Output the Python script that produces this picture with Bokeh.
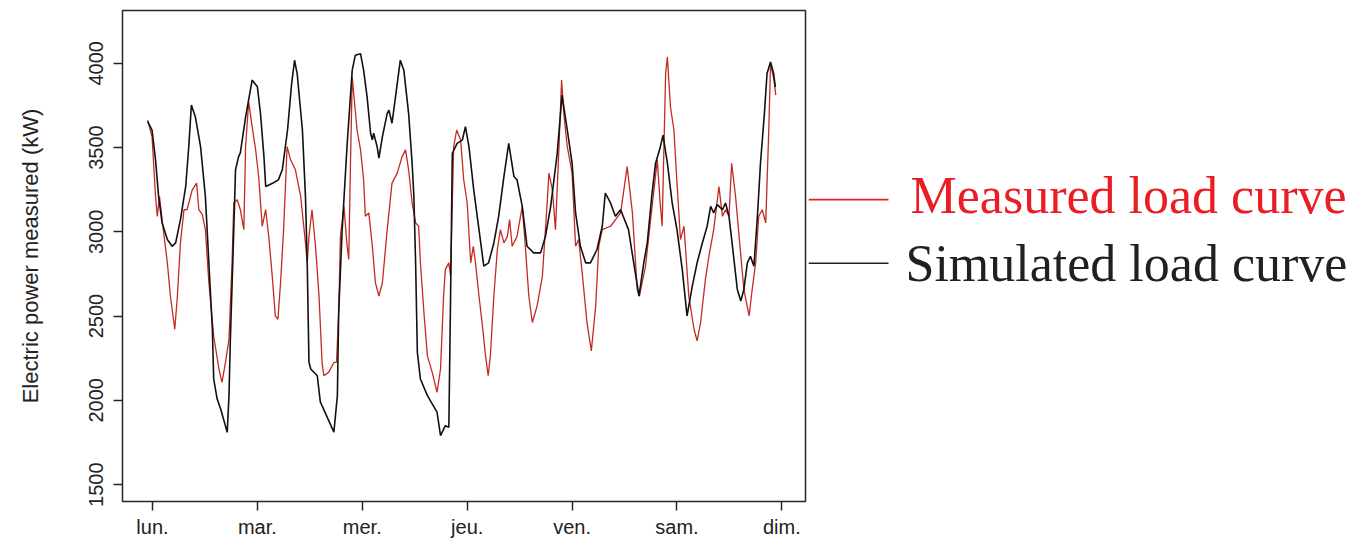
from bokeh.plotting import figure
from bokeh.models import Range1d, FixedTicker
from bokeh.layouts import row
from bokeh.embed import file_html
from bokeh.resources import INLINE
from bokeh.core.properties import value

# ---------------- data ----------------
day_labels = ["lun.", "mar.", "mer.", "jeu.", "ven.", "sam.", "dim."]
y_ticks = [1500, 2000, 2500, 3000, 3500, 4000]
series_names = ["Measured load curve", "Simulated load curve"]

# hours since Monday 00:00, measured load (kW)
measured_h = [-1.1, -0.1, 0.7, 1.1, 1.6, 2.2, 3.4, 4.1, 5.1, 5.7,
              6.4, 7.2, 7.9, 9.1, 10.1, 10.6, 11.4, 12.1, 12.9, 14.0,
              15.2, 15.9, 16.7, 17.5, 18.2, 18.6, 19.4, 20.1, 20.9, 21.3,
              22.0, 22.8, 23.6, 24.3, 25.1, 25.9, 26.6, 27.4, 28.1, 28.7,
              29.3, 30.0, 30.8, 31.6, 32.7, 33.9, 35.0, 35.4, 35.8, 36.5,
              37.3, 38.1, 38.8, 39.2, 40.3, 41.5, 42.1, 42.6, 43.0, 43.8,
              44.5, 44.9, 45.3, 45.7, 46.1, 46.8, 47.6, 48.3, 48.7, 49.5,
              50.3, 51.0, 51.8, 52.6, 53.7, 54.8, 56.0, 57.1, 57.9, 58.6,
              59.4, 60.2, 60.9, 61.3, 62.1, 62.9, 64.0, 65.1, 65.9, 66.6,
              67.0, 67.8, 68.2, 68.9, 69.6, 70.5, 71.2, 72.0, 72.8, 73.4,
              73.9, 74.7, 75.4, 76.2, 76.8, 77.3, 78.1, 78.9, 79.6, 80.4,
              81.2, 81.7, 82.3, 83.4, 84.6, 85.3, 86.1, 86.9, 88.0, 89.2,
              90.3, 90.7, 91.5, 92.2, 93.0, 93.6, 94.1, 94.9, 96.0, 96.8,
              97.5, 98.3, 99.4, 100.4, 101.4, 102.1, 102.9, 104.8, 107.1, 108.6,
              109.8, 110.9, 111.4, 112.8, 114.3, 115.5, 116.1, 116.6, 117.4, 117.8,
              118.5, 119.3, 120.0, 120.8, 121.6, 122.7, 123.9, 124.6, 125.4, 126.5,
              127.3, 128.4, 129.6, 130.4, 131.1, 131.9, 132.5, 133.4, 134.2, 135.3,
              136.5, 137.2, 138.0, 138.7, 139.5, 140.3, 141.0, 141.4, 142.2, 142.6]
measured_kw = [3663, 3564, 3210, 3092, 3210, 3072, 2816, 2619, 2422, 2619,
               2934, 3131, 3131, 3249, 3289, 3131, 3102, 3013, 2698, 2382,
               2186, 2107, 2225, 2363, 2816, 3171, 3190, 3131, 3013, 3505,
               3771, 3624, 3486, 3328, 3033, 3131, 2973, 2737, 2501, 2481,
               2698, 3013, 3505, 3427, 3368, 3210, 2934, 2816, 2973, 3131,
               2914, 2619, 2225, 2146, 2166, 2225, 2225, 2521, 2973, 3151,
               2924, 2836, 3407, 3919, 3801, 3604, 3486, 3309, 3092, 3112,
               2914, 2698, 2619, 2698, 3013, 3289, 3348, 3446, 3486, 3368,
               3171, 3053, 3033, 2816, 2521, 2264, 2166, 2048, 2186, 2619,
               2777, 2816, 2737, 3505, 3604, 3545, 3309, 3171, 2816, 2914,
               2816, 2619, 2462, 2264, 2146, 2264, 2619, 2895, 3013, 2934,
               2973, 3072, 2914, 2973, 3151, 2914, 2619, 2462, 2560, 2737,
               3171, 3348, 3249, 3013, 3505, 3900, 3703, 3505, 3348, 2914,
               2954, 2759, 2463, 2294, 2560, 2914, 3013, 3033, 3112, 3387,
               3112, 2658, 2619, 2796, 3151, 3427, 3190, 3033, 3939, 4037,
               3742, 3604, 3289, 2954, 3033, 2619, 2422, 2353, 2462, 2718,
               2855, 3013, 3269, 3092, 3131, 3092, 3407, 3210, 2973, 2658,
               2501, 2658, 2816, 3092, 3131, 3053, 3604, 3998, 3900, 3811]

simulated_h = [-1.1, -0.1, 0.7, 1.4, 2.2, 3.4, 4.5, 5.3, 6.4, 7.6,
               8.3, 8.9, 9.8, 11.0, 12.1, 12.9, 13.7, 14.0, 14.8, 15.6,
               17.1, 17.5, 17.8, 18.6, 19.0, 19.7, 20.1, 21.3, 22.8, 24.0,
               24.7, 25.5, 25.9, 27.7, 28.8, 29.7, 30.9, 31.8, 32.5, 33.1,
               34.3, 35.0, 35.4, 35.8, 36.2, 37.7, 38.4, 41.5, 42.3, 42.6,
               43.4, 44.5, 45.7, 46.4, 47.6, 48.3, 49.1, 49.9, 50.3, 50.6,
               51.4, 51.8, 52.6, 53.7, 54.1, 54.8, 55.6, 56.7, 57.5, 58.6,
               59.4, 59.8, 60.2, 60.6, 61.3, 62.9, 65.1, 65.9, 67.0, 67.8,
               68.2, 68.6, 69.7, 70.9, 71.6, 72.4, 73.5, 74.7, 75.8, 76.9,
               78.1, 79.2, 80.4, 81.5, 82.7, 83.4, 84.6, 85.7, 87.2, 88.8,
               89.9, 91.1, 92.6, 93.7, 94.9, 96.0, 96.8, 97.9, 99.1, 100.2,
               101.7, 102.9, 103.6, 104.8, 105.9, 107.1, 108.9, 111.3, 112.4, 113.2,
               114.3, 115.1, 116.2, 116.8, 117.8, 118.9, 120.0, 121.2, 122.3, 123.5,
               124.6, 125.8, 126.9, 127.7, 128.4, 129.2, 130.4, 131.1, 131.9, 132.6,
               133.8, 134.6, 135.3, 136.1, 136.8, 137.6, 138.4, 139.1, 140.0, 140.6,
               141.4, 142.1, 142.5]
simulated_kw = [3653, 3604, 3427, 3210, 3053, 2954, 2914, 2934, 3072, 3269,
                3505, 3752, 3683, 3505, 3210, 2816, 2422, 2127, 2008, 1949,
                1810, 2028, 2345, 3013, 3368, 3446, 3468, 3681, 3900, 3860,
                3705, 3446, 3269, 3291, 3308, 3368, 3604, 3870, 4018, 3939,
                3604, 3210, 2816, 2227, 2186, 2146, 1991, 1812, 2028, 2523,
                3013, 3505, 3959, 4047, 4057, 3959, 3801, 3585, 3545, 3585,
                3505, 3437, 3564, 3703, 3722, 3644, 3801, 4018, 3959, 3703,
                3407, 3210, 2816, 2284, 2127, 2028, 1930, 1791, 1850, 1841,
                2619, 3466, 3525, 3545, 3624, 3505, 3249, 3013, 2796, 2816,
                2934, 3092, 3328, 3525, 3328, 3309, 3151, 2914, 2875, 2875,
                2973, 3151, 3466, 3811, 3604, 3407, 3112, 2914, 2816, 2816,
                2895, 3033, 3230, 3171, 3092, 3131, 3013, 2619, 2816, 2934,
                3230, 3407, 3505, 3574, 3407, 3171, 3013, 2777, 2501, 2678,
                2816, 2934, 3033, 3151, 3112, 3161, 3131, 3171, 3092, 2934,
                2658, 2589, 2658, 2816, 2855, 2796, 3092, 3407, 3703, 3939,
                4008, 3939, 3860]

# ---------------- main plot ----------------
AX = "#262626"
p = figure(width=808, height=540,
           x_range=Range1d(-6.86, 149.4), y_range=Range1d(1400, 4313),
           output_backend="svg", toolbar_location=None,
           min_border_left=122, min_border_right=3, min_border_top=10, min_border_bottom=37)
p.background_fill_color = "white"
p.border_fill_color = "white"
p.grid.visible = False
p.outline_line_color = AX
p.outline_line_width = 1.5
p.outline_line_alpha = 1.0

p.line(measured_h, measured_kw, line_color="#c42a22", line_width=1.3)
p.line(simulated_h, simulated_kw, line_color="#111111", line_width=1.6)

p.xaxis.ticker = FixedTicker(ticks=[24 * i for i in range(len(day_labels))])
p.xaxis.major_label_overrides = {24 * i: lab for i, lab in enumerate(day_labels)}
p.yaxis.ticker = FixedTicker(ticks=y_ticks)
p.yaxis.major_label_orientation = "vertical"
p.yaxis.axis_label = "Electric power measured (kW)"

for ax in p.axis:
    ax.axis_line_color = None
    ax.major_tick_line_color = AX
    ax.major_tick_line_width = 1.5
    ax.major_tick_out = 9
    ax.major_tick_in = 0
    ax.minor_tick_line_color = None
    ax.major_label_text_font = "Liberation Sans"
    ax.major_label_text_font_size = "20px"
    ax.major_label_text_color = "#222222"
    ax.axis_label_text_font = "Liberation Sans"
    ax.axis_label_text_font_style = "normal"
    ax.axis_label_text_font_size = "22px"
    ax.axis_label_text_color = "#222222"

p.xaxis.major_label_standoff = 5
p.yaxis.major_label_standoff = 10
p.yaxis.axis_label_standoff = 44

# ---------------- legend panel ----------------
lg = figure(width=539, height=540, x_range=Range1d(0, 539), y_range=Range1d(540, 0),
            output_backend="svg", toolbar_location=None,
            x_axis_location=None, y_axis_location=None, min_border=0)
lg.grid.visible = False
lg.outline_line_color = None
lg.background_fill_color = "white"
lg.border_fill_color = "white"

legend_colors = ["#ea1d25", "#231f20"]
legend_line_y = [208, 278]
legend_text_x = [102, 97]
legend_text_y = [204, 278]
for name, col, ly, tx, ty in zip(series_names, legend_colors, legend_line_y, legend_text_x, legend_text_y):
    lg.line([0, 80], [ly, ly], line_color=col, line_width=1.6)
    lg.text(x=[tx], y=[ty], text=[name], text_color=col,
            text_font=value("Liberation Serif"), text_font_size="52px",
            text_baseline="alphabetic", text_align="left")

layout = row(p, lg)
open("out.html", "w").write(file_html(layout, INLINE))
